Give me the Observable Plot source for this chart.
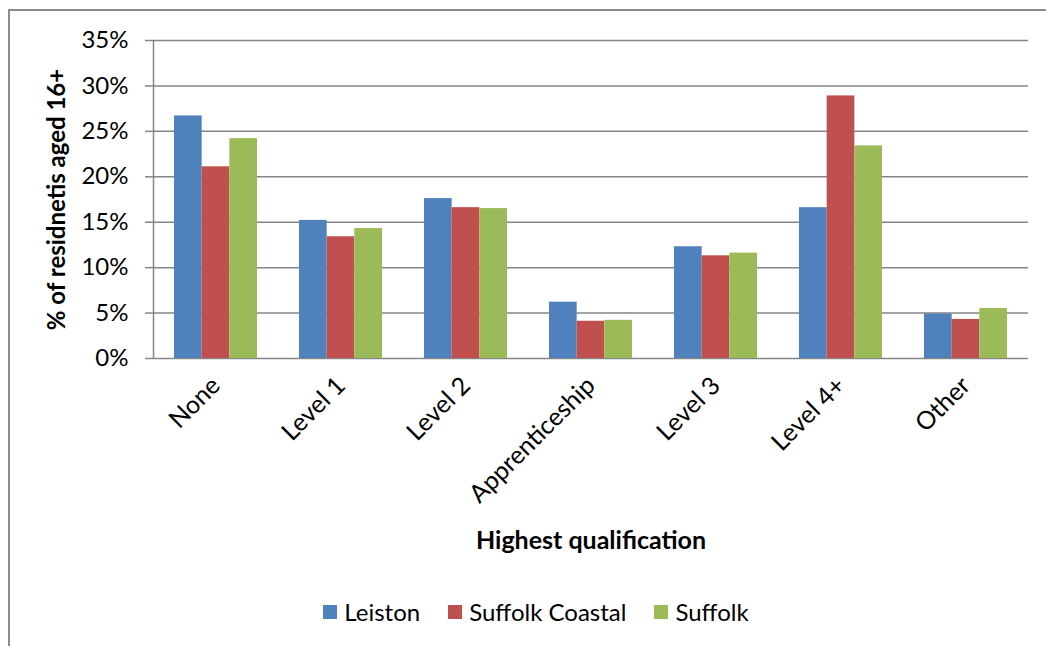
<!DOCTYPE html>
<html>
<head>
<meta charset="utf-8">
<script src="https://cdn.jsdelivr.net/npm/d3@7"></script>
<script src="https://cdn.jsdelivr.net/npm/@observablehq/plot@0.6"></script>
<style>
  html, body { margin: 0; padding: 0; background: #fff; overflow: hidden; }
  #wrap { position: relative; width: 1046px; height: 646px; overflow: hidden; font-family: Lato, "Open Sans", sans-serif; }
  #border { position: absolute; left: 8px; top: 9px; width: 1100px; height: 700px; border: 2px solid #8c8c8c; box-sizing: border-box; }
  #chart { position: absolute; left: 0; top: 0; }
  #legend { position: absolute; left: 0; top: 597px; width: 1072px; display: flex; justify-content: center; font-size: 24px; color: #000; }
  .item { display: flex; align-items: center; margin: 0 14px; }
  .sw { width: 14px; height: 14px; margin-right: 7px; }
</style>
</head>
<body>
<div id="wrap">
  <div id="border"></div>
  <div id="chart"></div>
  <div id="legend"></div>
</div>
<script>
const categories = ["None", "Level 1", "Level 2", "Apprenticeship", "Level 3", "Level 4+", "Other"];
const series = ["Leiston", "Suffolk Coastal", "Suffolk"];
const colors = ["#4F81BD", "#C0504D", "#9BBB59"];
const leiston = [26.7, 15.2, 17.6, 6.2, 12.3, 16.6, 4.9];
const suffolkCoastal = [21.1, 13.4, 16.6, 4.1, 11.3, 28.9, 4.3];
const suffolk = [24.2, 14.3, 16.5, 4.2, 11.6, 23.4, 5.5];
const yTicks = [0, 5, 10, 15, 20, 25, 30, 35];

// layout of a group within each category slot (fractions of one slot)
const groupGap = 0.168;
const barW = (1 - 2 * groupGap) / series.length;

const valuesBySeries = [leiston, suffolkCoastal, suffolk];
const rows = [];
categories.forEach((c, i) => {
  series.forEach((s, j) => rows.push({
    category: c, series: s, value: valuesBySeries[j][i],
    x1: i + groupGap + j * barW, x2: i + groupGap + (j + 1) * barW
  }));
});
const catCenters = categories.map((c, i) => i + 0.5);

const plot = Plot.plot({
  width: 1046,
  height: 560,
  marginTop: 40,
  marginLeft: 153,
  marginRight: 18,
  marginBottom: 202,
  style: {fontFamily: "Lato, 'Open Sans', sans-serif", fontSize: "24px", color: "#000", background: "transparent"},
  x: {domain: [0, categories.length]},
  y: {domain: [0, 35]},
  color: {domain: series, range: colors},
  marks: [
    Plot.ruleY(yTicks, {stroke: "#868686", strokeWidth: 1.5}),
    Plot.rectY(rows, {x1: "x1", x2: "x2", y: "value", fill: "series"}),
    Plot.ruleX([0], {stroke: "#868686", strokeWidth: 1.5}),
    Plot.axisY({
      ticks: yTicks, tickFormat: d => d + "%", tickSize: 8, tickPadding: 17,
      stroke: "#868686", strokeWidth: 1.5,
      label: "% of residnetis aged 16+", labelAnchor: "center", labelArrow: "none", labelOffset: 106
    }),
    Plot.axisX({
      ticks: catCenters, tickFormat: d => categories[Math.round(d - 0.5)],
      tickRotate: -45, tickSize: 0, tickPadding: 23, fontSize: 25,
      label: "Highest qualification", labelAnchor: "center", labelArrow: "none", labelOffset: 190
    })
  ]
});
document.getElementById("chart").appendChild(plot);

// bold axis titles
plot.querySelectorAll("g[aria-label='y-axis label'] text, g[aria-label='x-axis label'] text").forEach(t => t.setAttribute("font-weight", "bold"));

const legend = document.getElementById("legend");
series.forEach((s, i) => {
  const item = document.createElement("div");
  item.className = "item";
  const sw = document.createElement("div");
  sw.className = "sw";
  sw.style.background = colors[i];
  const lab = document.createElement("span");
  lab.textContent = s;
  item.appendChild(sw);
  item.appendChild(lab);
  legend.appendChild(item);
});
</script>
</body>
</html>
